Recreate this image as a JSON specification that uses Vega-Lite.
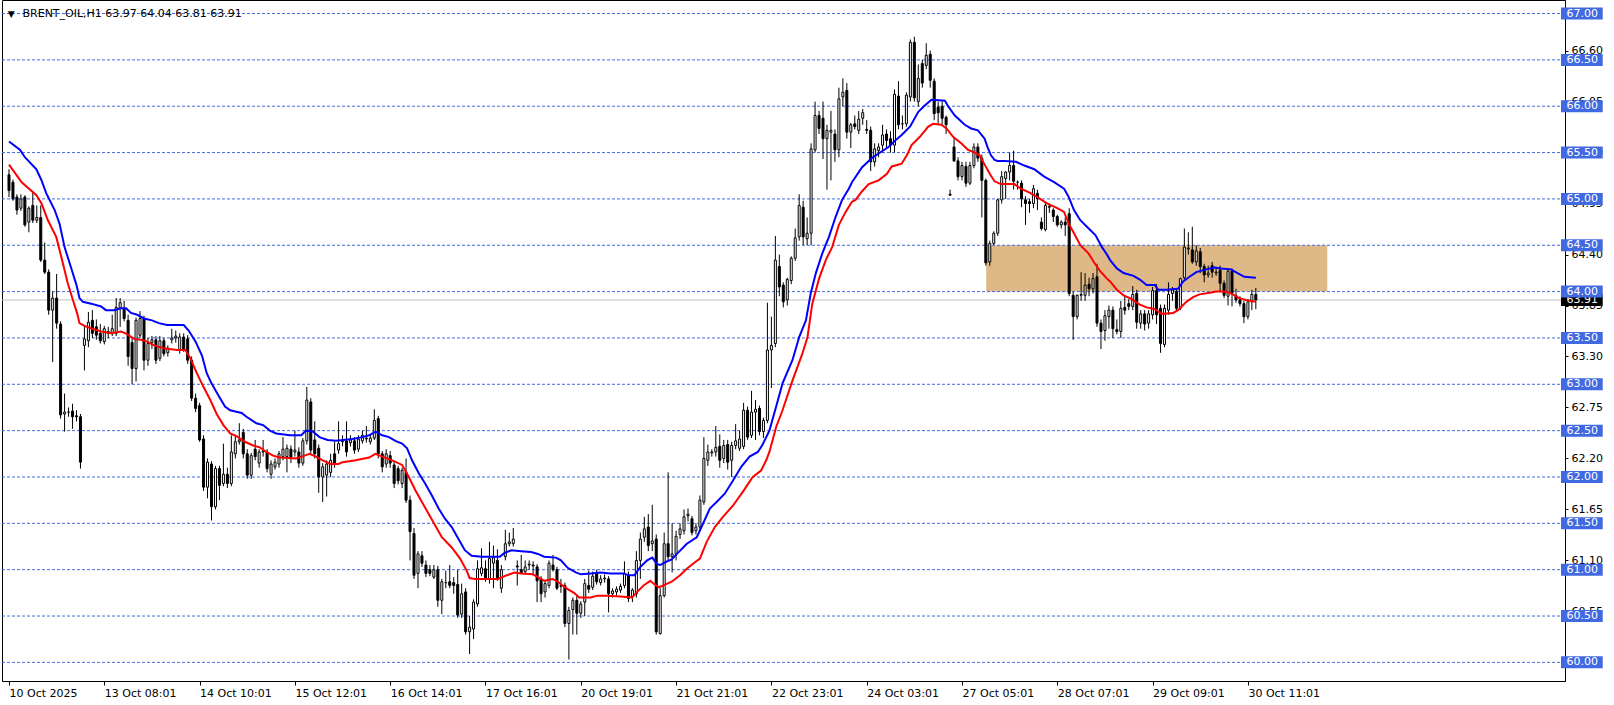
{
"$schema":"https://vega.github.io/schema/vega-lite/v6.json",
"width":1563,"height":681,
"autosize":{"type":"none"},
"padding":{"left":2,"top":0,"right":49,"bottom":24},
"background":"white",
"config":{"view":{"stroke":"black","strokeWidth":1},"font":"DejaVu Sans","axis":{"labelFont":"DejaVu Sans","labelFontSize":11,"labelColor":"black","domainColor":"black","tickColor":"black","grid":false}},
"datasets":{
"c":[
{"i":0,"o":65.26,"h":65.32,"l":65.02,"c":65.09},{"i":1,"o":65.18,"h":65.21,"l":64.98,"c":65.0},{"i":2,"o":65.02,"h":65.05,"l":64.83,"c":64.88},{"i":3,"o":64.9,"h":65.05,"l":64.87,"c":65.0},{"i":4,"o":65.02,"h":65.04,"l":64.7,"c":64.72},{"i":5,"o":64.75,"h":64.92,"l":64.64,"c":64.9},{"i":6,"o":64.93,"h":65.08,"l":64.74,"c":64.77},{"i":7,"o":64.77,"h":64.93,"l":64.74,"c":64.8},{"i":8,"o":64.8,"h":64.93,"l":64.32,"c":64.34},{"i":9,"o":64.34,"h":64.53,"l":64.19,"c":64.21},
{"i":10,"o":64.21,"h":64.24,"l":63.75,"c":63.8},{"i":11,"o":63.8,"h":64.0,"l":63.24,"c":63.93},{"i":12,"o":63.93,"h":64.19,"l":63.6,"c":63.66},{"i":13,"o":63.65,"h":63.68,"l":62.63,"c":62.67},{"i":14,"o":62.68,"h":62.9,"l":62.49,"c":62.7},{"i":15,"o":62.7,"h":62.75,"l":62.65,"c":62.7},{"i":16,"o":62.71,"h":62.79,"l":62.52,"c":62.65},{"i":17,"o":62.66,"h":62.72,"l":62.6,"c":62.65},{"i":18,"o":62.65,"h":62.68,"l":62.09,"c":62.16},{"i":19,"o":63.42,"h":63.64,"l":63.15,"c":63.49},
{"i":20,"o":63.47,"h":63.78,"l":63.4,"c":63.67},{"i":21,"o":63.69,"h":63.8,"l":63.5,"c":63.55},{"i":22,"o":63.62,"h":63.7,"l":63.48,"c":63.53},{"i":23,"o":63.55,"h":63.65,"l":63.44,"c":63.47},{"i":24,"o":63.46,"h":63.63,"l":63.43,"c":63.6},{"i":25,"o":63.57,"h":63.62,"l":63.5,"c":63.55},{"i":26,"o":63.55,"h":63.75,"l":63.52,"c":63.6},{"i":27,"o":63.55,"h":63.93,"l":63.52,"c":63.83},{"i":28,"o":63.82,"h":63.93,"l":63.62,"c":63.88},{"i":29,"o":63.82,"h":63.9,"l":63.68,"c":63.71},
{"i":30,"o":63.69,"h":63.75,"l":63.2,"c":63.3},{"i":31,"o":63.45,"h":63.5,"l":63.0,"c":63.17},{"i":32,"o":63.17,"h":63.72,"l":63.03,"c":63.69},{"i":33,"o":63.53,"h":63.79,"l":63.5,"c":63.71},{"i":34,"o":63.71,"h":63.74,"l":63.15,"c":63.26},{"i":35,"o":63.26,"h":63.5,"l":63.2,"c":63.44},{"i":36,"o":63.45,"h":63.52,"l":63.38,"c":63.48},{"i":37,"o":63.48,"h":63.52,"l":63.22,"c":63.26},{"i":38,"o":63.28,"h":63.52,"l":63.25,"c":63.47},{"i":39,"o":63.47,"h":63.5,"l":63.3,"c":63.33},
{"i":40,"o":63.34,"h":63.42,"l":63.3,"c":63.39},{"i":41,"o":63.48,"h":63.6,"l":63.44,"c":63.5},{"i":42,"o":63.5,"h":63.58,"l":63.45,"c":63.52},{"i":43,"o":63.37,"h":63.55,"l":63.33,"c":63.51},{"i":44,"o":63.51,"h":63.55,"l":63.35,"c":63.37},{"i":45,"o":63.49,"h":63.53,"l":63.22,"c":63.26},{"i":46,"o":63.26,"h":63.3,"l":62.82,"c":62.85},{"i":47,"o":62.85,"h":62.9,"l":62.7,"c":62.74},{"i":48,"o":62.77,"h":62.8,"l":62.38,"c":62.4},{"i":49,"o":62.41,"h":62.45,"l":61.85,"c":61.89},
{"i":50,"o":61.89,"h":62.2,"l":61.77,"c":62.16},{"i":51,"o":62.14,"h":62.17,"l":61.53,"c":61.68},{"i":52,"o":61.68,"h":62.12,"l":61.65,"c":62.09},{"i":53,"o":62.09,"h":62.12,"l":61.75,"c":61.91},{"i":54,"o":61.93,"h":62.36,"l":61.9,"c":62.03},{"i":55,"o":62.03,"h":62.1,"l":61.88,"c":61.93},{"i":56,"o":61.93,"h":62.45,"l":61.9,"c":62.27},{"i":57,"o":62.25,"h":62.45,"l":62.2,"c":62.38},{"i":58,"o":62.38,"h":62.58,"l":62.35,"c":62.4},{"i":59,"o":62.48,"h":62.52,"l":62.2,"c":62.25},
{"i":60,"o":62.25,"h":62.3,"l":61.98,"c":62.02},{"i":61,"o":62.02,"h":62.26,"l":61.98,"c":62.23},{"i":62,"o":62.3,"h":62.4,"l":62.18,"c":62.22},{"i":63,"o":62.15,"h":62.3,"l":62.1,"c":62.27},{"i":64,"o":62.27,"h":62.4,"l":62.22,"c":62.28},{"i":65,"o":62.27,"h":62.3,"l":62.05,"c":62.09},{"i":66,"o":62.03,"h":62.18,"l":61.98,"c":62.14},{"i":67,"o":62.11,"h":62.2,"l":62.08,"c":62.16},{"i":68,"o":62.14,"h":62.28,"l":62.1,"c":62.25},{"i":69,"o":62.22,"h":62.43,"l":62.18,"c":62.3},
{"i":70,"o":62.22,"h":62.35,"l":62.05,"c":62.31},{"i":71,"o":62.3,"h":62.34,"l":62.15,"c":62.21},{"i":72,"o":62.27,"h":62.5,"l":62.22,"c":62.29},{"i":73,"o":62.27,"h":62.32,"l":62.1,"c":62.15},{"i":74,"o":62.15,"h":62.42,"l":62.12,"c":62.39},{"i":75,"o":62.39,"h":62.97,"l":62.35,"c":62.83},{"i":76,"o":62.81,"h":62.85,"l":62.25,"c":62.29},{"i":77,"o":62.4,"h":62.6,"l":62.2,"c":62.25},{"i":78,"o":62.31,"h":62.35,"l":61.83,"c":62.0},{"i":79,"o":62.0,"h":62.15,"l":61.73,"c":62.11},
{"i":80,"o":62.02,"h":62.18,"l":61.79,"c":62.14},{"i":81,"o":62.05,"h":62.25,"l":62.0,"c":62.18},{"i":82,"o":62.25,"h":62.38,"l":62.1,"c":62.14},{"i":83,"o":62.29,"h":62.6,"l":62.25,"c":62.36},{"i":84,"o":62.38,"h":62.45,"l":62.33,"c":62.39},{"i":85,"o":62.39,"h":62.6,"l":62.22,"c":62.27},{"i":86,"o":62.37,"h":62.45,"l":62.33,"c":62.4},{"i":87,"o":62.39,"h":62.43,"l":62.25,"c":62.29},{"i":88,"o":62.3,"h":62.45,"l":62.27,"c":62.41},{"i":89,"o":62.39,"h":62.5,"l":62.36,"c":62.45},
{"i":90,"o":62.41,"h":62.55,"l":62.37,"c":62.42},{"i":91,"o":62.38,"h":62.46,"l":62.35,"c":62.42},{"i":92,"o":62.42,"h":62.73,"l":62.4,"c":62.61},{"i":93,"o":62.63,"h":62.66,"l":62.2,"c":62.25},{"i":94,"o":62.25,"h":62.28,"l":62.05,"c":62.11},{"i":95,"o":62.14,"h":62.3,"l":62.1,"c":62.25},{"i":96,"o":62.23,"h":62.28,"l":62.1,"c":62.15},{"i":97,"o":62.13,"h":62.17,"l":61.88,"c":61.93},{"i":98,"o":62.09,"h":62.12,"l":61.92,"c":61.96},{"i":99,"o":61.93,"h":62.1,"l":61.88,"c":62.07},
{"i":100,"o":62.05,"h":62.2,"l":61.72,"c":61.75},{"i":101,"o":61.75,"h":61.8,"l":61.1,"c":61.41},{"i":102,"o":61.39,"h":61.45,"l":60.9,"c":60.94},{"i":103,"o":60.96,"h":61.2,"l":60.8,"c":61.17},{"i":104,"o":61.15,"h":61.2,"l":61.03,"c":61.07},{"i":105,"o":61.05,"h":61.1,"l":60.92,"c":60.96},{"i":106,"o":61.0,"h":61.05,"l":60.93,"c":60.96},{"i":107,"o":60.92,"h":61.05,"l":60.9,"c":61.0},{"i":108,"o":61.0,"h":61.04,"l":60.6,"c":60.67},{"i":109,"o":60.67,"h":60.9,"l":60.52,"c":60.87},
{"i":110,"o":60.86,"h":60.99,"l":60.8,"c":60.86},{"i":111,"o":60.87,"h":61.05,"l":60.8,"c":60.83},{"i":112,"o":60.86,"h":60.92,"l":60.74,"c":60.83},{"i":113,"o":60.84,"h":61.0,"l":60.48,"c":60.51},{"i":114,"o":60.52,"h":60.85,"l":60.48,"c":60.74},{"i":115,"o":60.76,"h":60.8,"l":60.3,"c":60.33},{"i":116,"o":60.33,"h":60.5,"l":60.09,"c":60.38},{"i":117,"o":60.36,"h":60.68,"l":60.25,"c":60.65},{"i":118,"o":60.63,"h":61.1,"l":60.6,"c":61.01},{"i":119,"o":60.96,"h":61.23,"l":60.93,"c":61.02},
{"i":120,"o":61.01,"h":61.1,"l":60.87,"c":60.9},{"i":121,"o":60.9,"h":61.3,"l":60.85,"c":61.12},{"i":122,"o":61.07,"h":61.26,"l":60.8,"c":61.13},{"i":123,"o":61.1,"h":61.22,"l":60.88,"c":60.9},{"i":124,"o":60.8,"h":61.05,"l":60.75,"c":61.0},{"i":125,"o":61.14,"h":61.43,"l":61.1,"c":61.28},{"i":126,"o":61.28,"h":61.4,"l":61.25,"c":61.3},{"i":127,"o":61.28,"h":61.45,"l":61.25,"c":61.33},{"i":128,"o":61.04,"h":61.1,"l":60.83,"c":61.03},{"i":129,"o":61.0,"h":61.16,"l":60.95,"c":60.96},
{"i":130,"o":60.98,"h":61.1,"l":60.95,"c":61.03},{"i":131,"o":61.05,"h":61.1,"l":61.0,"c":61.06},{"i":132,"o":61.05,"h":61.09,"l":60.95,"c":61.04},{"i":133,"o":61.03,"h":61.06,"l":60.65,"c":60.88},{"i":134,"o":60.9,"h":60.93,"l":60.65,"c":60.74},{"i":135,"o":60.76,"h":60.88,"l":60.7,"c":60.85},{"i":136,"o":60.83,"h":61.1,"l":60.8,"c":61.07},{"i":137,"o":61.05,"h":61.16,"l":60.98,"c":61.0},{"i":138,"o":61.0,"h":61.03,"l":60.78,"c":60.8},{"i":139,"o":60.82,"h":60.9,"l":60.75,"c":60.83},
{"i":140,"o":60.83,"h":60.86,"l":60.38,"c":60.42},{"i":141,"o":60.42,"h":60.6,"l":60.03,"c":60.56},{"i":142,"o":60.57,"h":60.7,"l":60.3,"c":60.67},{"i":143,"o":60.67,"h":60.72,"l":60.3,"c":60.53},{"i":144,"o":60.53,"h":60.66,"l":60.48,"c":60.63},{"i":145,"o":60.65,"h":60.9,"l":60.5,"c":60.85},{"i":146,"o":60.83,"h":60.99,"l":60.75,"c":60.79},{"i":147,"o":60.81,"h":60.98,"l":60.78,"c":60.93},{"i":148,"o":60.96,"h":61.0,"l":60.84,"c":60.87},{"i":149,"o":60.86,"h":60.94,"l":60.83,"c":60.9},
{"i":150,"o":60.9,"h":60.95,"l":60.86,"c":60.91},{"i":151,"o":60.9,"h":60.93,"l":60.54,"c":60.74},{"i":152,"o":60.74,"h":60.8,"l":60.7,"c":60.77},{"i":153,"o":60.76,"h":60.82,"l":60.72,"c":60.79},{"i":154,"o":60.78,"h":60.85,"l":60.75,"c":60.82},{"i":155,"o":60.83,"h":61.09,"l":60.8,"c":60.96},{"i":156,"o":60.94,"h":60.98,"l":60.65,"c":60.69},{"i":157,"o":60.71,"h":60.8,"l":60.65,"c":60.78},{"i":158,"o":60.74,"h":61.2,"l":60.7,"c":61.1},{"i":159,"o":61.1,"h":61.4,"l":60.9,"c":61.33},
{"i":160,"o":61.35,"h":61.57,"l":61.3,"c":61.44},{"i":161,"o":61.46,"h":61.6,"l":61.2,"c":61.26},{"i":162,"o":61.28,"h":61.7,"l":61.2,"c":61.31},{"i":163,"o":61.33,"h":61.38,"l":60.3,"c":60.33},{"i":164,"o":60.31,"h":60.8,"l":60.3,"c":60.72},{"i":165,"o":60.72,"h":61.4,"l":60.7,"c":61.28},{"i":166,"o":61.28,"h":62.05,"l":61.1,"c":61.14},{"i":167,"o":61.14,"h":61.5,"l":60.97,"c":61.17},{"i":168,"o":61.17,"h":61.42,"l":61.1,"c":61.36},{"i":169,"o":61.38,"h":61.5,"l":61.33,"c":61.44},
{"i":170,"o":61.42,"h":61.65,"l":61.38,"c":61.57},{"i":171,"o":61.58,"h":61.66,"l":61.52,"c":61.6},{"i":172,"o":61.55,"h":61.58,"l":61.37,"c":61.4},{"i":173,"o":61.42,"h":61.5,"l":61.38,"c":61.46},{"i":174,"o":61.46,"h":61.8,"l":61.43,"c":61.75},{"i":175,"o":61.73,"h":62.43,"l":61.7,"c":62.2},{"i":176,"o":62.18,"h":62.35,"l":62.12,"c":62.27},{"i":177,"o":62.26,"h":62.3,"l":62.22,"c":62.27},{"i":178,"o":62.27,"h":62.55,"l":62.22,"c":62.32},{"i":179,"o":62.33,"h":62.46,"l":62.1,"c":62.18},
{"i":180,"o":62.2,"h":62.4,"l":62.15,"c":62.34},{"i":181,"o":62.35,"h":62.4,"l":62.08,"c":62.16},{"i":182,"o":62.18,"h":62.38,"l":62.0,"c":62.34},{"i":183,"o":62.34,"h":62.57,"l":62.3,"c":62.39},{"i":184,"o":62.31,"h":62.5,"l":62.28,"c":62.41},{"i":185,"o":62.33,"h":62.8,"l":62.3,"c":62.72},{"i":186,"o":62.72,"h":62.76,"l":62.4,"c":62.43},{"i":187,"o":62.45,"h":62.93,"l":62.42,"c":62.7},{"i":188,"o":62.7,"h":62.83,"l":62.4,"c":62.73},{"i":189,"o":62.74,"h":62.77,"l":62.45,"c":62.49},
{"i":190,"o":62.49,"h":62.64,"l":62.42,"c":62.61},{"i":191,"o":62.61,"h":63.88,"l":62.58,"c":63.37},{"i":192,"o":63.37,"h":63.73,"l":62.96,"c":63.42},{"i":193,"o":63.44,"h":64.6,"l":63.4,"c":64.34},{"i":194,"o":64.27,"h":64.4,"l":63.95,"c":64.05},{"i":195,"o":64.07,"h":64.1,"l":63.83,"c":63.89},{"i":196,"o":63.91,"h":64.15,"l":63.85,"c":64.13},{"i":197,"o":64.12,"h":64.38,"l":64.08,"c":64.36},{"i":198,"o":64.36,"h":64.68,"l":64.33,"c":64.58},{"i":199,"o":64.59,"h":65.05,"l":64.55,"c":64.93},
{"i":200,"o":64.91,"h":64.98,"l":64.5,"c":64.59},{"i":201,"o":64.57,"h":64.8,"l":64.5,"c":64.63},{"i":202,"o":64.63,"h":65.6,"l":64.5,"c":65.54},{"i":203,"o":65.53,"h":66.05,"l":65.5,"c":65.9},{"i":204,"o":65.9,"h":65.95,"l":65.7,"c":65.76},{"i":205,"o":65.87,"h":66.05,"l":65.43,"c":65.65},{"i":206,"o":65.65,"h":65.8,"l":65.1,"c":65.74},{"i":207,"o":65.72,"h":65.95,"l":65.2,"c":65.74},{"i":208,"o":65.7,"h":65.75,"l":65.4,"c":65.53},{"i":209,"o":65.53,"h":66.2,"l":65.45,"c":66.08},
{"i":210,"o":66.1,"h":66.3,"l":66.0,"c":66.15},{"i":211,"o":66.17,"h":66.25,"l":65.65,"c":65.72},{"i":212,"o":65.72,"h":65.82,"l":65.55,"c":65.8},{"i":213,"o":65.81,"h":65.9,"l":65.75,"c":65.78},{"i":214,"o":65.74,"h":65.95,"l":65.7,"c":65.86},{"i":215,"o":65.87,"h":65.97,"l":65.8,"c":65.93},{"i":216,"o":65.75,"h":65.85,"l":65.7,"c":65.74},{"i":217,"o":65.74,"h":65.78,"l":65.3,"c":65.4},{"i":218,"o":65.4,"h":65.6,"l":65.35,"c":65.54},{"i":219,"o":65.52,"h":65.6,"l":65.45,"c":65.56},
{"i":220,"o":65.58,"h":65.8,"l":65.5,"c":65.69},{"i":221,"o":65.7,"h":65.75,"l":65.55,"c":65.63},{"i":222,"o":65.65,"h":65.73,"l":65.5,"c":65.58},{"i":223,"o":65.58,"h":66.18,"l":65.5,"c":66.13},{"i":224,"o":66.11,"h":66.27,"l":65.75,"c":65.8},{"i":225,"o":65.81,"h":65.9,"l":65.75,"c":65.81},{"i":226,"o":65.81,"h":66.15,"l":65.78,"c":66.12},{"i":227,"o":66.1,"h":66.72,"l":66.05,"c":66.69},{"i":228,"o":66.69,"h":66.75,"l":66.05,"c":66.09},{"i":229,"o":66.05,"h":66.45,"l":66.0,"c":66.3},
{"i":230,"o":66.46,"h":66.5,"l":66.2,"c":66.25},{"i":231,"o":66.44,"h":66.68,"l":66.4,"c":66.55},{"i":232,"o":66.56,"h":66.6,"l":66.2,"c":66.28},{"i":233,"o":66.27,"h":66.3,"l":65.85,"c":65.92},{"i":234,"o":65.99,"h":66.05,"l":65.81,"c":65.93},{"i":235,"o":66.0,"h":66.05,"l":65.8,"c":65.87},{"i":236,"o":65.88,"h":65.9,"l":65.7,"c":65.8},{"i":237,"o":65.05,"h":65.1,"l":65.04,"c":65.04},{"i":238,"o":65.56,"h":65.66,"l":65.4,"c":65.41},{"i":239,"o":65.41,"h":65.45,"l":65.2,"c":65.24},
{"i":240,"o":65.24,"h":65.4,"l":65.2,"c":65.36},{"i":241,"o":65.35,"h":65.4,"l":65.13,"c":65.17},{"i":242,"o":65.17,"h":65.4,"l":65.15,"c":65.36},{"i":243,"o":65.36,"h":65.6,"l":65.33,"c":65.56},{"i":244,"o":65.56,"h":65.6,"l":65.4,"c":65.44},{"i":245,"o":65.44,"h":65.48,"l":64.8,"c":65.2},{"i":246,"o":65.2,"h":65.22,"l":64.28,"c":64.31},{"i":247,"o":64.32,"h":64.55,"l":64.28,"c":64.52},{"i":248,"o":64.52,"h":64.65,"l":64.5,"c":64.63},{"i":249,"o":64.63,"h":65.0,"l":64.6,"c":64.99},
{"i":250,"o":64.99,"h":65.3,"l":64.95,"c":65.24},{"i":251,"o":65.22,"h":65.3,"l":65.0,"c":65.29},{"i":252,"o":65.29,"h":65.5,"l":65.2,"c":65.36},{"i":253,"o":65.36,"h":65.52,"l":65.1,"c":65.19},{"i":254,"o":65.18,"h":65.2,"l":65.1,"c":65.18},{"i":255,"o":65.17,"h":65.2,"l":64.91,"c":65.0},{"i":256,"o":64.99,"h":65.03,"l":64.72,"c":64.95},{"i":257,"o":64.97,"h":65.0,"l":64.85,"c":64.95},{"i":258,"o":64.95,"h":65.15,"l":64.9,"c":65.11},{"i":259,"o":65.06,"h":65.1,"l":64.88,"c":65.0},
{"i":260,"o":64.75,"h":64.8,"l":64.66,"c":64.68},{"i":261,"o":64.67,"h":64.96,"l":64.65,"c":64.93},{"i":262,"o":64.91,"h":64.95,"l":64.85,"c":64.92},{"i":263,"o":64.88,"h":64.9,"l":64.75,"c":64.81},{"i":264,"o":64.81,"h":64.83,"l":64.7,"c":64.72},{"i":265,"o":64.72,"h":64.77,"l":64.68,"c":64.75},{"i":266,"o":64.75,"h":64.8,"l":64.6,"c":64.72},{"i":267,"o":64.84,"h":64.9,"l":63.95,"c":63.98},{"i":268,"o":63.96,"h":64.0,"l":63.48,"c":63.73},{"i":269,"o":63.73,"h":63.97,"l":63.7,"c":63.96},
{"i":270,"o":63.96,"h":64.21,"l":63.9,"c":63.97},{"i":271,"o":63.96,"h":64.2,"l":63.9,"c":64.07},{"i":272,"o":64.08,"h":64.15,"l":63.95,"c":64.03},{"i":273,"o":64.03,"h":64.2,"l":63.98,"c":64.14},{"i":274,"o":64.16,"h":64.3,"l":63.62,"c":63.66},{"i":275,"o":63.66,"h":63.7,"l":63.38,"c":63.57},{"i":276,"o":63.58,"h":63.8,"l":63.47,"c":63.74},{"i":277,"o":63.73,"h":63.85,"l":63.6,"c":63.8},{"i":278,"o":63.8,"h":63.84,"l":63.5,"c":63.6},{"i":279,"o":63.59,"h":63.7,"l":63.54,"c":63.57},
{"i":280,"o":63.57,"h":63.9,"l":63.5,"c":63.82},{"i":281,"o":63.83,"h":63.95,"l":63.75,"c":63.8},{"i":282,"o":63.87,"h":63.92,"l":63.8,"c":63.84},{"i":283,"o":63.84,"h":64.06,"l":63.8,"c":63.97},{"i":284,"o":63.98,"h":64.02,"l":63.6,"c":63.67},{"i":285,"o":63.66,"h":63.8,"l":63.6,"c":63.76},{"i":286,"o":63.76,"h":63.8,"l":63.58,"c":63.65},{"i":287,"o":63.66,"h":63.8,"l":63.6,"c":63.76},{"i":288,"o":63.75,"h":64.05,"l":63.7,"c":64.01},{"i":289,"o":64.01,"h":64.08,"l":63.65,"c":63.75},
{"i":290,"o":63.82,"h":63.86,"l":63.34,"c":63.44},{"i":291,"o":63.43,"h":63.86,"l":63.4,"c":63.82},{"i":292,"o":63.8,"h":64.1,"l":63.75,"c":63.97},{"i":293,"o":63.98,"h":64.05,"l":63.9,"c":64.02},{"i":294,"o":64.0,"h":64.04,"l":63.78,"c":63.82},{"i":295,"o":63.82,"h":64.15,"l":63.8,"c":64.14},{"i":296,"o":64.15,"h":64.68,"l":64.12,"c":64.48},{"i":297,"o":64.46,"h":64.64,"l":64.4,"c":64.47},{"i":298,"o":64.45,"h":64.7,"l":64.3,"c":64.32},{"i":299,"o":64.32,"h":64.5,"l":64.28,"c":64.44},
{"i":300,"o":64.43,"h":64.47,"l":64.2,"c":64.27},{"i":301,"o":64.27,"h":64.3,"l":64.1,"c":64.18},{"i":302,"o":64.18,"h":64.28,"l":64.15,"c":64.2},{"i":303,"o":64.28,"h":64.32,"l":64.15,"c":64.21},{"i":304,"o":64.2,"h":64.25,"l":64.17,"c":64.21},{"i":305,"o":64.23,"h":64.28,"l":64.0,"c":64.09},{"i":306,"o":64.09,"h":64.12,"l":63.93,"c":63.96},{"i":307,"o":63.95,"h":64.25,"l":63.85,"c":64.22},{"i":308,"o":64.22,"h":64.25,"l":63.84,"c":63.98},{"i":309,"o":63.96,"h":64.03,"l":63.88,"c":63.91},
{"i":310,"o":63.91,"h":63.95,"l":63.84,"c":63.87},{"i":311,"o":63.87,"h":63.9,"l":63.66,"c":63.73},{"i":312,"o":63.73,"h":63.92,"l":63.7,"c":63.89},{"i":313,"o":63.89,"h":64.02,"l":63.8,"c":63.97},{"i":314,"o":63.97,"h":64.04,"l":63.81,"c":63.91}
],
"ma":[
{"s":"b","i":0,"v":65.62},{"s":"b","i":2.75,"v":65.53},{"s":"b","i":4,"v":65.45},{"s":"b","i":6.9,"v":65.32},{"s":"b","i":8.2,"v":65.2},{"s":"b","i":9.4,"v":65.06},{"s":"b","i":11.5,"v":64.88},{"s":"b","i":12.75,"v":64.73},{"s":"b","i":14,"v":64.48},{"s":"b","i":15.7,"v":64.25},{"s":"b","i":17,"v":64.07},{"s":"b","i":17.75,"v":63.93},{"s":"b","i":18.6,"v":63.89},{"s":"b","i":20.7,"v":63.87},{"s":"b","i":23.2,"v":63.84},{"s":"b","i":24.4,"v":63.8},{"s":"b","i":26.5,"v":63.8},{"s":"b","i":28.2,"v":63.82},{"s":"b","i":29.5,"v":63.82},{"s":"b","i":30.7,"v":63.77},{"s":"b","i":32.3,"v":63.75},{"s":"b","i":34,"v":63.71},{"s":"b","i":36,"v":63.69},{"s":"b","i":37.75,"v":63.66},{"s":"b","i":39.8,"v":63.64},{"s":"b","i":44,"v":63.64},{"s":"b","i":45.25,"v":63.58},{"s":"b","i":47,"v":63.46},{"s":"b","i":48.6,"v":63.31},{"s":"b","i":49.8,"v":63.12},{"s":"b","i":51,"v":63.01},{"s":"b","i":52.75,"v":62.88},{"s":"b","i":54.4,"v":62.76},{"s":"b","i":55.7,"v":62.72},{"s":"b","i":58.6,"v":62.69},{"s":"b","i":59.8,"v":62.65},{"s":"b","i":62.3,"v":62.58},{"s":"b","i":64,"v":62.56},{"s":"b","i":65.7,"v":62.5},{"s":"b","i":67.3,"v":62.47},{"s":"b","i":70.7,"v":62.45},{"s":"b","i":73.6,"v":62.45},{"s":"b","i":74.8,"v":62.5},{"s":"b","i":76.5,"v":62.49},{"s":"b","i":78.2,"v":62.43},{"s":"b","i":80.25,"v":62.4},{"s":"b","i":82.3,"v":62.39},{"s":"b","i":86.5,"v":62.41},{"s":"b","i":89,"v":62.43},{"s":"b","i":90.7,"v":62.45},{"s":"b","i":92.3,"v":62.49},{"s":"b","i":94,"v":62.45},{"s":"b","i":95.7,"v":62.43},{"s":"b","i":97.3,"v":62.39},{"s":"b","i":99,"v":62.36},{"s":"b","i":100.25,"v":62.31},{"s":"b","i":101.5,"v":62.18},{"s":"b","i":103.2,"v":62.04},{"s":"b","i":104.8,"v":61.93},{"s":"b","i":106.5,"v":61.8},{"s":"b","i":108.2,"v":61.66},{"s":"b","i":109.8,"v":61.55},{"s":"b","i":111.5,"v":61.46},{"s":"b","i":113.2,"v":61.33},{"s":"b","i":114.8,"v":61.21},{"s":"b","i":116.5,"v":61.15},{"s":"b","i":119,"v":61.14},{"s":"b","i":121.5,"v":61.14},{"s":"b","i":123.6,"v":61.14},{"s":"b","i":124.8,"v":61.18},{"s":"b","i":126.5,"v":61.21},{"s":"b","i":129,"v":61.2},{"s":"b","i":131.5,"v":61.19},{"s":"b","i":133.2,"v":61.17},{"s":"b","i":134.8,"v":61.14},{"s":"b","i":137.75,"v":61.13},{"s":"b","i":139,"v":61.1},{"s":"b","i":140.7,"v":61.02},{"s":"b","i":142.75,"v":60.97},{"s":"b","i":144,"v":60.95},{"s":"b","i":146.5,"v":60.96},{"s":"b","i":149,"v":60.97},{"s":"b","i":151.5,"v":60.96},{"s":"b","i":154.8,"v":60.96},{"s":"b","i":156,"v":60.94},{"s":"b","i":157.5,"v":60.94},{"s":"b","i":159,"v":61.03},{"s":"b","i":160.7,"v":61.1},{"s":"b","i":162,"v":61.13},{"s":"b","i":163.2,"v":61.06},{"s":"b","i":164,"v":61.05},{"s":"b","i":165.25,"v":61.08},{"s":"b","i":166.9,"v":61.11},{"s":"b","i":168.2,"v":61.17},{"s":"b","i":170.7,"v":61.28},{"s":"b","i":173.2,"v":61.35},{"s":"b","i":174.4,"v":61.46},{"s":"b","i":176.5,"v":61.66},{"s":"b","i":178.2,"v":61.73},{"s":"b","i":180.25,"v":61.82},{"s":"b","i":182.3,"v":61.96},{"s":"b","i":184.4,"v":62.11},{"s":"b","i":186.5,"v":62.22},{"s":"b","i":188.6,"v":62.27},{"s":"b","i":189.8,"v":62.35},{"s":"b","i":191.5,"v":62.5},{"s":"b","i":193.2,"v":62.76},{"s":"b","i":194.8,"v":63.01},{"s":"b","i":197.3,"v":63.26},{"s":"b","i":199,"v":63.51},{"s":"b","i":200.7,"v":63.69},{"s":"b","i":201.9,"v":63.98},{"s":"b","i":203.2,"v":64.2},{"s":"b","i":204.8,"v":64.41},{"s":"b","i":206.5,"v":64.59},{"s":"b","i":208.2,"v":64.81},{"s":"b","i":209.8,"v":64.99},{"s":"b","i":211.5,"v":65.11},{"s":"b","i":212.3,"v":65.18},{"s":"b","i":214.8,"v":65.34},{"s":"b","i":217.3,"v":65.44},{"s":"b","i":219,"v":65.49},{"s":"b","i":221.5,"v":65.56},{"s":"b","i":223.2,"v":65.63},{"s":"b","i":224.8,"v":65.69},{"s":"b","i":226.9,"v":65.78},{"s":"b","i":229,"v":65.94},{"s":"b","i":230.7,"v":66.01},{"s":"b","i":232.3,"v":66.07},{"s":"b","i":235.7,"v":66.06},{"s":"b","i":236.5,"v":66.0},{"s":"b","i":238.2,"v":65.9},{"s":"b","i":240.7,"v":65.8},{"s":"b","i":242.3,"v":65.76},{"s":"b","i":244,"v":65.74},{"s":"b","i":245.7,"v":65.65},{"s":"b","i":246.5,"v":65.55},{"s":"b","i":247.3,"v":65.47},{"s":"b","i":248.2,"v":65.42},{"s":"b","i":249,"v":65.41},{"s":"b","i":250.7,"v":65.41},{"s":"b","i":253.6,"v":65.4},{"s":"b","i":255.7,"v":65.36},{"s":"b","i":258.2,"v":65.32},{"s":"b","i":260.7,"v":65.24},{"s":"b","i":263.2,"v":65.18},{"s":"b","i":265.7,"v":65.11},{"s":"b","i":266.9,"v":65.02},{"s":"b","i":268.2,"v":64.88},{"s":"b","i":269.8,"v":64.77},{"s":"b","i":271.9,"v":64.68},{"s":"b","i":273.6,"v":64.61},{"s":"b","i":275.25,"v":64.48},{"s":"b","i":276.5,"v":64.4},{"s":"b","i":277.3,"v":64.34},{"s":"b","i":279,"v":64.25},{"s":"b","i":280.7,"v":64.2},{"s":"b","i":283.2,"v":64.17},{"s":"b","i":284.8,"v":64.13},{"s":"b","i":286.5,"v":64.07},{"s":"b","i":288.6,"v":64.07},{"s":"b","i":289.4,"v":64.02},{"s":"b","i":291.5,"v":64.02},{"s":"b","i":294.4,"v":64.03},{"s":"b","i":295.7,"v":64.11},{"s":"b","i":297.3,"v":64.16},{"s":"b","i":299,"v":64.21},{"s":"b","i":301.5,"v":64.24},{"s":"b","i":303.6,"v":64.26},{"s":"b","i":305.25,"v":64.25},{"s":"b","i":307.75,"v":64.24},{"s":"b","i":309.4,"v":64.2},{"s":"b","i":311.1,"v":64.16},{"s":"b","i":314,"v":64.15},
{"s":"r","i":0,"v":65.37},{"s":"r","i":3.2,"v":65.18},{"s":"r","i":6.9,"v":65.04},{"s":"r","i":8.2,"v":64.95},{"s":"r","i":9.8,"v":64.77},{"s":"r","i":11.9,"v":64.59},{"s":"r","i":13.2,"v":64.37},{"s":"r","i":14.8,"v":64.09},{"s":"r","i":16.1,"v":63.91},{"s":"r","i":17.2,"v":63.76},{"s":"r","i":17.75,"v":63.66},{"s":"r","i":19,"v":63.63},{"s":"r","i":21,"v":63.6},{"s":"r","i":23.2,"v":63.57},{"s":"r","i":25.7,"v":63.55},{"s":"r","i":28.2,"v":63.57},{"s":"r","i":29.4,"v":63.55},{"s":"r","i":31.5,"v":63.49},{"s":"r","i":33.2,"v":63.48},{"s":"r","i":34.8,"v":63.46},{"s":"r","i":36.5,"v":63.42},{"s":"r","i":39,"v":63.39},{"s":"r","i":42.3,"v":63.37},{"s":"r","i":44.4,"v":63.37},{"s":"r","i":45.7,"v":63.28},{"s":"r","i":47.3,"v":63.12},{"s":"r","i":49,"v":62.97},{"s":"r","i":50.7,"v":62.83},{"s":"r","i":52.3,"v":62.68},{"s":"r","i":54,"v":62.56},{"s":"r","i":55.7,"v":62.47},{"s":"r","i":57.3,"v":62.44},{"s":"r","i":59.4,"v":62.38},{"s":"r","i":61.5,"v":62.34},{"s":"r","i":63.2,"v":62.32},{"s":"r","i":64.8,"v":62.27},{"s":"r","i":66.5,"v":62.23},{"s":"r","i":68.2,"v":62.21},{"s":"r","i":72.3,"v":62.2},{"s":"r","i":74.4,"v":62.23},{"s":"r","i":75.7,"v":62.25},{"s":"r","i":77.3,"v":62.22},{"s":"r","i":79,"v":62.18},{"s":"r","i":81,"v":62.14},{"s":"r","i":83,"v":62.14},{"s":"r","i":84,"v":62.16},{"s":"r","i":87.3,"v":62.18},{"s":"r","i":90.7,"v":62.21},{"s":"r","i":92.3,"v":62.25},{"s":"r","i":94,"v":62.22},{"s":"r","i":96.5,"v":62.18},{"s":"r","i":99,"v":62.13},{"s":"r","i":100.7,"v":62.0},{"s":"r","i":102.3,"v":61.86},{"s":"r","i":104,"v":61.73},{"s":"r","i":105.7,"v":61.6},{"s":"r","i":107.3,"v":61.48},{"s":"r","i":109,"v":61.35},{"s":"r","i":111.5,"v":61.24},{"s":"r","i":113.6,"v":61.12},{"s":"r","i":115.25,"v":60.99},{"s":"r","i":116,"v":60.91},{"s":"r","i":117.3,"v":60.9},{"s":"r","i":120.7,"v":60.9},{"s":"r","i":123.2,"v":60.9},{"s":"r","i":124.8,"v":60.93},{"s":"r","i":127.3,"v":60.97},{"s":"r","i":129,"v":60.96},{"s":"r","i":131.9,"v":60.95},{"s":"r","i":133.2,"v":60.92},{"s":"r","i":134.8,"v":60.88},{"s":"r","i":136.9,"v":60.9},{"s":"r","i":138.2,"v":60.87},{"s":"r","i":139.4,"v":60.83},{"s":"r","i":140.7,"v":60.79},{"s":"r","i":142.3,"v":60.75},{"s":"r","i":143.6,"v":60.7},{"s":"r","i":146.5,"v":60.7},{"s":"r","i":148.2,"v":60.72},{"s":"r","i":150.7,"v":60.72},{"s":"r","i":154,"v":60.71},{"s":"r","i":156.9,"v":60.7},{"s":"r","i":158.2,"v":60.76},{"s":"r","i":159.8,"v":60.83},{"s":"r","i":161.5,"v":60.88},{"s":"r","i":162.3,"v":60.85},{"s":"r","i":163.6,"v":60.81},{"s":"r","i":164.8,"v":60.83},{"s":"r","i":166.9,"v":60.87},{"s":"r","i":169,"v":60.94},{"s":"r","i":170.7,"v":61.01},{"s":"r","i":172.75,"v":61.08},{"s":"r","i":174,"v":61.12},{"s":"r","i":175.7,"v":61.3},{"s":"r","i":177.75,"v":61.46},{"s":"r","i":179.8,"v":61.57},{"s":"r","i":182.3,"v":61.69},{"s":"r","i":184.8,"v":61.84},{"s":"r","i":187.3,"v":62.0},{"s":"r","i":189.4,"v":62.07},{"s":"r","i":190.7,"v":62.18},{"s":"r","i":191.5,"v":62.27},{"s":"r","i":193.2,"v":62.54},{"s":"r","i":194.8,"v":62.72},{"s":"r","i":197.3,"v":63.04},{"s":"r","i":199.8,"v":63.33},{"s":"r","i":201.1,"v":63.51},{"s":"r","i":202.3,"v":63.87},{"s":"r","i":204,"v":64.14},{"s":"r","i":205.7,"v":64.34},{"s":"r","i":207.3,"v":64.48},{"s":"r","i":209,"v":64.72},{"s":"r","i":210.7,"v":64.86},{"s":"r","i":212.3,"v":64.97},{"s":"r","i":213.2,"v":64.99},{"s":"r","i":214.8,"v":65.08},{"s":"r","i":216.5,"v":65.16},{"s":"r","i":219,"v":65.2},{"s":"r","i":221.1,"v":65.27},{"s":"r","i":222.3,"v":65.35},{"s":"r","i":224.8,"v":65.38},{"s":"r","i":226.1,"v":65.47},{"s":"r","i":227.3,"v":65.58},{"s":"r","i":229.4,"v":65.67},{"s":"r","i":231.5,"v":65.78},{"s":"r","i":232.75,"v":65.81},{"s":"r","i":234.8,"v":65.8},{"s":"r","i":236.1,"v":65.76},{"s":"r","i":237.75,"v":65.67},{"s":"r","i":239.8,"v":65.6},{"s":"r","i":241.5,"v":65.53},{"s":"r","i":243.2,"v":65.5},{"s":"r","i":244.4,"v":65.47},{"s":"r","i":245.7,"v":65.37},{"s":"r","i":247.3,"v":65.25},{"s":"r","i":248.2,"v":65.19},{"s":"r","i":249.8,"v":65.16},{"s":"r","i":253.2,"v":65.16},{"s":"r","i":254.8,"v":65.11},{"s":"r","i":256.9,"v":65.07},{"s":"r","i":259,"v":65.02},{"s":"r","i":261.5,"v":64.95},{"s":"r","i":264,"v":64.9},{"s":"r","i":265.7,"v":64.86},{"s":"r","i":266.9,"v":64.73},{"s":"r","i":268.2,"v":64.63},{"s":"r","i":269.8,"v":64.5},{"s":"r","i":271.9,"v":64.41},{"s":"r","i":273.2,"v":64.32},{"s":"r","i":274.8,"v":64.22},{"s":"r","i":276.5,"v":64.14},{"s":"r","i":277.3,"v":64.11},{"s":"r","i":279,"v":64.02},{"s":"r","i":280.7,"v":63.96},{"s":"r","i":282.3,"v":63.93},{"s":"r","i":284.8,"v":63.86},{"s":"r","i":286.5,"v":63.83},{"s":"r","i":288.6,"v":63.81},{"s":"r","i":290.25,"v":63.76},{"s":"r","i":293.2,"v":63.77},{"s":"r","i":294.4,"v":63.8},{"s":"r","i":296.5,"v":63.89},{"s":"r","i":298.2,"v":63.94},{"s":"r","i":299.8,"v":63.97},{"s":"r","i":302.75,"v":63.99},{"s":"r","i":304,"v":64.0},{"s":"r","i":306.5,"v":64.0},{"s":"r","i":308.2,"v":63.97},{"s":"r","i":309.8,"v":63.93},{"s":"r","i":311.5,"v":63.91},{"s":"r","i":314,"v":63.89}
],
"lv":[
{"p":60.0,"t":"60.00"},{"p":60.5,"t":"60.50"},{"p":61.0,"t":"61.00"},{"p":61.5,"t":"61.50"},{"p":62.0,"t":"62.00"},{"p":62.5,"t":"62.50"},{"p":63.0,"t":"63.00"},{"p":63.5,"t":"63.50"},{"p":64.0,"t":"64.00"},{"p":64.5,"t":"64.50"},{"p":65.0,"t":"65.00"},{"p":65.5,"t":"65.50"},{"p":66.0,"t":"66.00"},{"p":66.5,"t":"66.50"},{"p":67.0,"t":"67.00"}
]
},
"layer":[
{"data":{"values":[{"from":246.1,"to":332.0,"hi":64.5,"lo":64.0}]},
 "mark":{"type":"rect","fill":"#deb887"},
 "encoding":{
  "x":{"field":"from","type":"quantitative","scale":{"domain":[-0.5,390.6],"nice":false,"zero":false},"title":null,
   "axis":{"values":[0,24,48,72,96,120,144,168,192,216,240,264,288,312],"labelExpr":"['10 Oct 2025','13 Oct 08:01','14 Oct 10:01','15 Oct 12:01','16 Oct 14:01','17 Oct 16:01','20 Oct 19:01','21 Oct 21:01','22 Oct 23:01','24 Oct 03:01','27 Oct 05:01','28 Oct 07:01','29 Oct 09:01','30 Oct 11:01'][round(datum.value/24)]","labelAlign":"left","labelBaseline":"top","labelPadding":2,"tickSize":4,"labelOverlap":false,"labelFlush":false,"title":null}},
  "x2":{"field":"to"},
  "y":{"field":"hi","type":"quantitative","scale":{"domain":[59.799,67.146],"nice":false,"zero":false},"title":null,
   "axis":{"orient":"right","values":[60.55,61.1,61.65,62.2,62.75,63.3,63.85,64.4,64.95,65.5,66.05,66.6],"format":".2f","tickSize":3,"labelPadding":3,"labelAlign":"left","labelBaseline":"middle","labelOverlap":false,"labelFlush":false,"title":null}},
  "y2":{"field":"lo"}}},
{"data":{"name":"lv"},
 "mark":{"type":"rule","stroke":"#4169e1","strokeDash":[3,2],"strokeWidth":1},
 "encoding":{"y":{"field":"p","type":"quantitative","title":null}}},
{"data":{"values":[{"bid":63.91}]},
 "mark":{"type":"rule","stroke":"#c0c0c0","strokeWidth":1},
 "encoding":{"y":{"field":"bid","type":"quantitative","title":null}}},
{"data":{"name":"c"},
 "mark":{"type":"rule","stroke":"black","strokeWidth":1},
 "encoding":{"x":{"field":"i","type":"quantitative","title":null},"y":{"field":"l","type":"quantitative","title":null},"y2":{"field":"h"}}},
{"data":{"name":"c"},
 "mark":{"type":"bar","width":2,"stroke":"black","strokeWidth":1},
 "encoding":{"x":{"field":"i","type":"quantitative","title":null},"y":{"field":"o","type":"quantitative","title":null},"y2":{"field":"c"},
  "fill":{"condition":{"test":"datum.c >= datum.o","value":"white"},"value":"black"}}},
{"data":{"name":"ma"},
 "mark":{"type":"line","strokeWidth":2},
 "encoding":{"x":{"field":"i","type":"quantitative","title":null},"y":{"field":"v","type":"quantitative","title":null},
  "color":{"field":"s","type":"nominal","scale":{"domain":["b","r"],"range":["#0000ff","#ff0000"]},"legend":null}}},
{"data":{"values":[{"bid":63.91,"t":"63.91"}]},
 "mark":{"type":"rect","fill":"black","height":12,"clip":false},
 "encoding":{"x":{"datum":390.85,"type":"quantitative"},"x2":{"datum":401.36},"y":{"field":"bid","type":"quantitative","title":null}}},
{"data":{"values":[{"bid":63.91,"t":"63.91"}]},
 "mark":{"type":"text","fill":"white","align":"left","baseline":"middle","fontSize":11,"font":"DejaVu Sans","clip":false},
 "encoding":{"x":{"datum":392.23,"type":"quantitative"},"y":{"field":"bid","type":"quantitative","title":null},"text":{"field":"t"}}},
{"data":{"name":"lv"},
 "mark":{"type":"rect","fill":"#4169e1","height":12,"clip":false},
 "encoding":{"x":{"datum":390.85,"type":"quantitative"},"x2":{"datum":401.36},"y":{"field":"p","type":"quantitative","title":null}}},
{"data":{"name":"lv"},
 "mark":{"type":"text","fill":"white","align":"left","baseline":"middle","fontSize":11,"font":"DejaVu Sans","clip":false},
 "encoding":{"x":{"datum":392.23,"type":"quantitative"},"y":{"field":"p","type":"quantitative","title":null},"text":{"field":"t"}}},
{"data":{"values":[{"t":"▼"}]},
 "mark":{"type":"text","fill":"black","align":"left","baseline":"middle","fontSize":9,"font":"DejaVu Sans"},
 "encoding":{"x":{"datum":-0.3,"type":"quantitative"},"y":{"datum":67.0,"type":"quantitative"},"text":{"field":"t"}}},
{"data":{"values":[{"t":"BRENT_OIL,H1  63.97 64.04 63.81 63.91"}]},
 "mark":{"type":"text","fill":"black","align":"left","baseline":"middle","fontSize":11,"font":"DejaVu Sans"},
 "encoding":{"x":{"datum":3.4,"type":"quantitative"},"y":{"datum":67.0,"type":"quantitative"},"text":{"field":"t"}}}
]
}
